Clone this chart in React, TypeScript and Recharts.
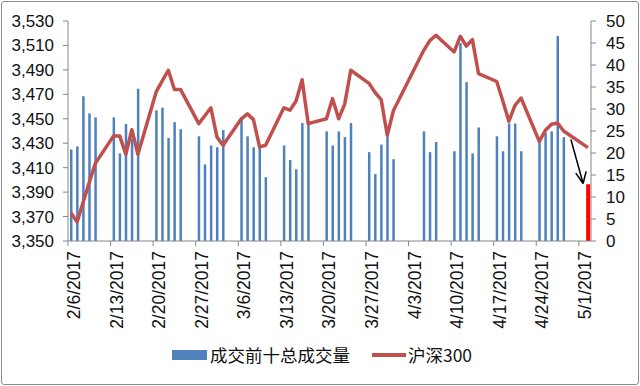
import { ComposedChart, Bar, Line, XAxis, YAxis, Legend, ReferenceLine } from "recharts";

// trading days (Feb 6 - May 2, 2017), volume on right axis, CSI 300 close on left axis
const tradingDays = [
  "2/6", "2/7", "2/8", "2/9", "2/10",
  "2/13", "2/14", "2/15", "2/16", "2/17",
  "2/20", "2/21", "2/22", "2/23", "2/24",
  "2/27", "2/28", "3/1", "3/2", "3/3",
  "3/6", "3/7", "3/8", "3/9", "3/10",
  "3/13", "3/14", "3/15", "3/16", "3/17",
  "3/20", "3/21", "3/22", "3/23", "3/24",
  "3/27", "3/28", "3/29", "3/30", "3/31",
  "4/5", "4/6", "4/7",
  "4/10", "4/11", "4/12", "4/13", "4/14",
  "4/17", "4/18", "4/19", "4/20", "4/21",
  "4/24", "4/25", "4/26", "4/27", "4/28",
  "5/2",
];

const volume = [
  20.8, 21.5, 32.9, 29.0, 28.1,
  28.1, 19.9, 26.6, 23.3, 34.6,
  29.7, 30.3, 23.4, 27.0, 25.4,
  23.8, 17.4, 21.7, 21.3, 25.2,
  28.1, 23.8, 21.3, 21.3, 14.5,
  21.7, 18.4, 16.3, 26.8, 26.7,
  24.9, 21.7, 24.9, 23.6, 26.8,
  20.2, 15.2, 21.9, 23.8, 18.6,
  24.9, 20.2, 22.5,
  20.4, 45.0, 36.1, 19.9, 25.8,
  23.8, 20.4, 26.7, 26.7, 20.4,
  23.0, 24.6, 24.9, 46.6, 23.6,
  12.9,
];

const hs300 = [
  3373, 3365.5, 3382, 3398, 3413.5,
  3436, 3436, 3421, 3441, 3421,
  3472, 3481, 3489.7, 3474, 3474,
  3446, 3452.5, 3459, 3435, 3428.3,
  3450, 3454, 3449.3, 3427, 3428.3,
  3459, 3457, 3464.5, 3482, 3446,
  3450, 3466.5, 3450, 3462, 3489.7,
  3479, 3471.5, 3465.7, 3436.5, 3456.5,
  3506, 3514, 3518.3,
  3504.7, 3517.5, 3509.5, 3514.8, 3487,
  3480.5, 3464.5, 3448, 3461, 3467,
  3431.5, 3440.6, 3445.5, 3446.6, 3440,
  3426.4,
];

const highlightDays = ["5/2"];

const xTickLabels = [
  "2/6/2017", "2/13/2017", "2/20/2017", "2/27/2017", "3/6/2017", "3/13/2017", "3/20/2017",
  "3/27/2017", "4/3/2017", "4/10/2017", "4/17/2017", "4/24/2017", "5/1/2017",
];
const leftTicks = [3350, 3370, 3390, 3410, 3430, 3450, 3470, 3490, 3510, 3530];
const rightTicks = [0, 5, 10, 15, 20, 25, 30, 35, 40, 45, 50];

const volumeName = "成交前十总成交量";
const indexName = "沪深300";

// annotation arrow (day, index value)
const arrowShaft = [{ x: 82.7, y: 3433 }, { x: 84.7, y: 3397 }];
const arrowHeadA = [{ x: 83.5, y: 3405.5 }, { x: 84.7, y: 3397 }];
const arrowHeadB = [{ x: 85.2, y: 3407 }, { x: 84.7, y: 3397 }];

const dayOf = (md: string) => {
  const [m, d] = md.split("/").map(Number);
  return (Date.UTC(2017, m - 1, d) - Date.UTC(2017, 1, 6)) / 86400000;
};

const data = tradingDays.map((d, i) => ({
  x: dayOf(d) + 0.5,
  vol: volume[i],
  close: hs300[i],
  highlight: highlightDays.includes(d),
}));

const xTicks = xTickLabels.map((l) => dayOf(l));
const xEnd = dayOf(tradingDays[tradingDays.length - 1]) + 1;

const AXIS = "#868686";
const TEXT = "#111";
const NUM_FONT = "'Liberation Sans', Arial, sans-serif";
const CJK_FONT = "'Noto Sans CJK SC', sans-serif";

const DateTick = (props: any) => {
  const { x, y, payload } = props;
  const idx = xTicks.indexOf(payload.value);
  const ax = x + 12;
  return (
    <text
      x={ax}
      y={y}
      transform={`rotate(-90, ${ax}, ${y})`}
      textAnchor="end"
      fontSize={17.5}
      fontFamily={NUM_FONT}
      fill={TEXT}
    >
      {xTickLabels[idx]}
    </text>
  );
};

const VolBar = (props: any) => {
  const { x, y, width, height, payload } = props;
  if (!height || height <= 0) return null;
  const cx = x + width / 2;
  const w = payload.highlight ? 4 : 2.5;
  return <rect x={cx - w / 2} y={y} width={w} height={height} fill={payload.highlight ? "#FF0000" : "#4F81BD"} />;
};

const renderLegend = () => (
  <div
    style={{
      display: "flex",
      justifyContent: "center",
      alignItems: "center",
      fontFamily: CJK_FONT,
      fontSize: 17.5,
      lineHeight: "24px",
      color: TEXT,
      height: 24,
      paddingLeft: 4,
    }}
  >
    <span style={{ width: 35, height: 10, background: "#4F81BD", marginRight: 3 }} />
    <span>{volumeName}</span>
    <span style={{ width: 34, height: 4, background: "#C0504D", marginLeft: 22, marginRight: 2 }} />
    <span>{indexName}</span>
  </div>
);

export default function App() {
  return (
    <div style={{ position: "absolute", left: 0, top: 0, width: 640, height: 386, background: "#fff" }}>
      <ComposedChart width={640} height={386} data={data} margin={{ top: 21, right: 0, bottom: 0, left: 0 }}>
        <XAxis
          dataKey="x"
          type="number"
          domain={[0, xEnd]}
          ticks={xTicks}
          interval={0}
          height={145}
          tickSize={5}
          tickMargin={5}
          tick={<DateTick />}
          axisLine={{ stroke: AXIS }}
          tickLine={{ stroke: AXIS }}
          allowDataOverflow
        />
        <YAxis
          yAxisId="left"
          domain={[3350, 3530]}
          ticks={leftTicks}
          interval={0}
          width={68}
          tickSize={5}
          tickMargin={9}
          tickFormatter={(v: number) => v.toLocaleString("en-US")}
          tick={{ fontSize: 17, fontFamily: NUM_FONT, fill: TEXT }}
          axisLine={{ stroke: AXIS }}
          tickLine={{ stroke: AXIS }}
          allowDataOverflow
        />
        <YAxis
          yAxisId="right"
          orientation="right"
          domain={[0, 50]}
          ticks={rightTicks}
          interval={0}
          width={49}
          tickSize={5}
          tickMargin={10}
          tick={{ fontSize: 17, fontFamily: NUM_FONT, fill: TEXT }}
          axisLine={{ stroke: AXIS }}
          tickLine={{ stroke: AXIS }}
          allowDataOverflow
        />
        <Legend
          layout="horizontal"
          verticalAlign="middle"
          align="center"
          wrapperStyle={{ top: 343, left: 0, width: 640 }}
          content={renderLegend}
        />
        <Bar
          yAxisId="right"
          dataKey="vol"
          name={volumeName}
          barSize={2.5}
          fill="#4F81BD"
          shape={<VolBar />}
          isAnimationActive={false}
        />
        <Line
          yAxisId="left"
          type="linear"
          dataKey="close"
          name={indexName}
          stroke="#C0504D"
          strokeWidth={3.5}
          strokeLinejoin="round"
          dot={false}
          activeDot={false}
          isAnimationActive={false}
        />
        <ReferenceLine yAxisId="left" segment={arrowShaft} stroke="#000" strokeWidth={1.5} ifOverflow="visible" />
        <ReferenceLine yAxisId="left" segment={arrowHeadA} stroke="#000" strokeWidth={1.5} ifOverflow="visible" />
        <ReferenceLine yAxisId="left" segment={arrowHeadB} stroke="#000" strokeWidth={1.5} ifOverflow="visible" />
      </ComposedChart>
      <div
        style={{
          position: "absolute",
          left: 1,
          top: 1,
          width: 638,
          height: 384,
          boxSizing: "border-box",
          border: "1px solid #8c8c8c",
          borderRadius: 3,
          pointerEvents: "none",
        }}
      />
    </div>
  );
}
